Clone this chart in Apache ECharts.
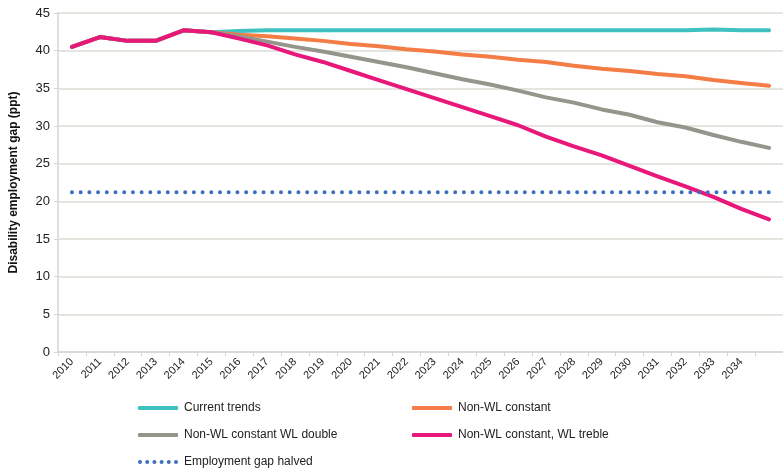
<!DOCTYPE html>
<html><head><meta charset="utf-8">
<script src="https://cdn.jsdelivr.net/npm/echarts@6/dist/echarts.min.js"></script>
<style>html,body{margin:0;padding:0;background:#fff}#c{width:783px;height:471px}</style>
</head><body><div id="c"></div>
<script>
const categories = ['2010','2011','2012','2013','2014','2015','2016','2017','2018','2019','2020','2021','2022','2023','2024','2025','2026','2027','2028','2029','2030','2031','2032','2033','2034',''];
const yTicks = [0,5,10,15,20,25,30,35,40,45];
const currentTrends = [40.5,41.8,41.3,41.3,42.7,42.45,42.6,42.7,42.7,42.7,42.7,42.7,42.7,42.7,42.7,42.7,42.7,42.7,42.7,42.7,42.7,42.7,42.7,42.8,42.7,42.7];
const nonWLConstant = [40.5,41.8,41.3,41.3,42.7,42.45,42.1,41.9,41.6,41.3,40.9,40.6,40.2,39.9,39.5,39.2,38.8,38.5,38.0,37.6,37.3,36.9,36.6,36.1,35.7,35.35];
const nonWLConstantWLDouble = [40.5,41.8,41.3,41.3,42.7,42.45,41.9,41.2,40.5,39.9,39.2,38.5,37.8,37.0,36.2,35.5,34.7,33.8,33.1,32.2,31.5,30.5,29.8,28.8,27.9,27.1];
const nonWLConstantWLTreble = [40.5,41.8,41.3,41.3,42.7,42.45,41.6,40.7,39.5,38.5,37.3,36.1,34.9,33.7,32.5,31.3,30.1,28.6,27.3,26.1,24.7,23.3,22.0,20.6,19.0,17.6];
const gapHalved = [21.2,21.2,21.2,21.2,21.2,21.2,21.2,21.2,21.2,21.2,21.2,21.2,21.2,21.2,21.2,21.2,21.2,21.2,21.2,21.2,21.2,21.2,21.2,21.2,21.2,21.2];

const chart = echarts.init(document.getElementById('c'), null, {renderer:'canvas'});
const lineSeries = (name, data, color) => ({
  name, type:'line', data, showSymbol:false, symbol:'none', smooth:false,
  lineStyle:{width:4, color, cap:'round', join:'round'}, itemStyle:{color}
});
const dotsPath = 'path://M0,2a2,2 0 1,0 4,0a2,2 0 1,0 -4,0M7.2,2a2,2 0 1,0 4,0a2,2 0 1,0 -4,0M14.4,2a2,2 0 1,0 4,0a2,2 0 1,0 -4,0M21.6,2a2,2 0 1,0 4,0a2,2 0 1,0 -4,0M28.8,2a2,2 0 1,0 4,0a2,2 0 1,0 -4,0M36,2a2,2 0 1,0 4,0a2,2 0 1,0 -4,0';
const legendCommon = {orient:'vertical', itemWidth:40, itemHeight:4, itemGap:13, padding:0,
  textStyle:{fontFamily:'Liberation Sans, Arial, sans-serif', fontSize:12, color:'#222', padding:[0,0,0,1], lineHeight:14}};
chart.setOption({
  animation:false,
  grid:{left:53, right:0, top:13, bottom:119, containLabel:false},
  xAxis:{type:'category', data:categories, boundaryGap:true,
    axisLine:{lineStyle:{color:'#d8d5ce', width:1.5}},
    axisTick:{show:true, alignWithLabel:false, length:4, lineStyle:{color:'#d8d5ce'}},
    axisLabel:{interval:0, rotate:45, fontSize:11, color:'#222', margin:8, fontFamily:'Liberation Sans, Arial, sans-serif'},
    splitLine:{show:false}},
  yAxis:{type:'value', min:yTicks[0], max:yTicks[yTicks.length-1], interval:5,
    name:'Disability employment gap (ppt)', nameLocation:'middle', nameGap:38,
    nameTextStyle:{fontWeight:'bold', fontSize:12, color:'#111', fontFamily:'Liberation Sans, Arial, sans-serif'},
    axisLine:{show:true, lineStyle:{color:'#d8d5ce', width:1.5}},
    axisTick:{show:true, length:4, lineStyle:{color:'#d8d5ce'}},
    axisLabel:{fontSize:13, color:'#222', margin:8, fontFamily:'Liberation Sans, Arial, sans-serif'},
    splitLine:{lineStyle:{color:'#dedbd4', width:1.5}}},
  legend:[
    Object.assign({}, legendCommon, {left:138, top:401, data:[
      {name:'Current trends', icon:'roundRect'},
      {name:'Non-WL constant WL double', icon:'roundRect'},
      {name:'Employment gap halved', icon:dotsPath}]}),
    Object.assign({}, legendCommon, {left:412, top:401, data:[
      {name:'Non-WL constant', icon:'roundRect'},
      {name:'Non-WL constant, WL treble', icon:'roundRect'}]})
  ],
  series:[
    lineSeries('Current trends', currentTrends, '#3fc1c0'),
    lineSeries('Non-WL constant', nonWLConstant, '#f47c45'),
    lineSeries('Non-WL constant WL double', nonWLConstantWLDouble, '#95958b'),
    lineSeries('Non-WL constant, WL treble', nonWLConstantWLTreble, '#e8177a'),
    {name:'Employment gap halved', type:'line', data:gapHalved, showSymbol:false, symbol:'none',
      lineStyle:{width:4, color:'#3d6fbf', type:[0.01,8.7], cap:'round'}, itemStyle:{color:'#3d6fbf'}}
  ]
});
</script></body></html>
